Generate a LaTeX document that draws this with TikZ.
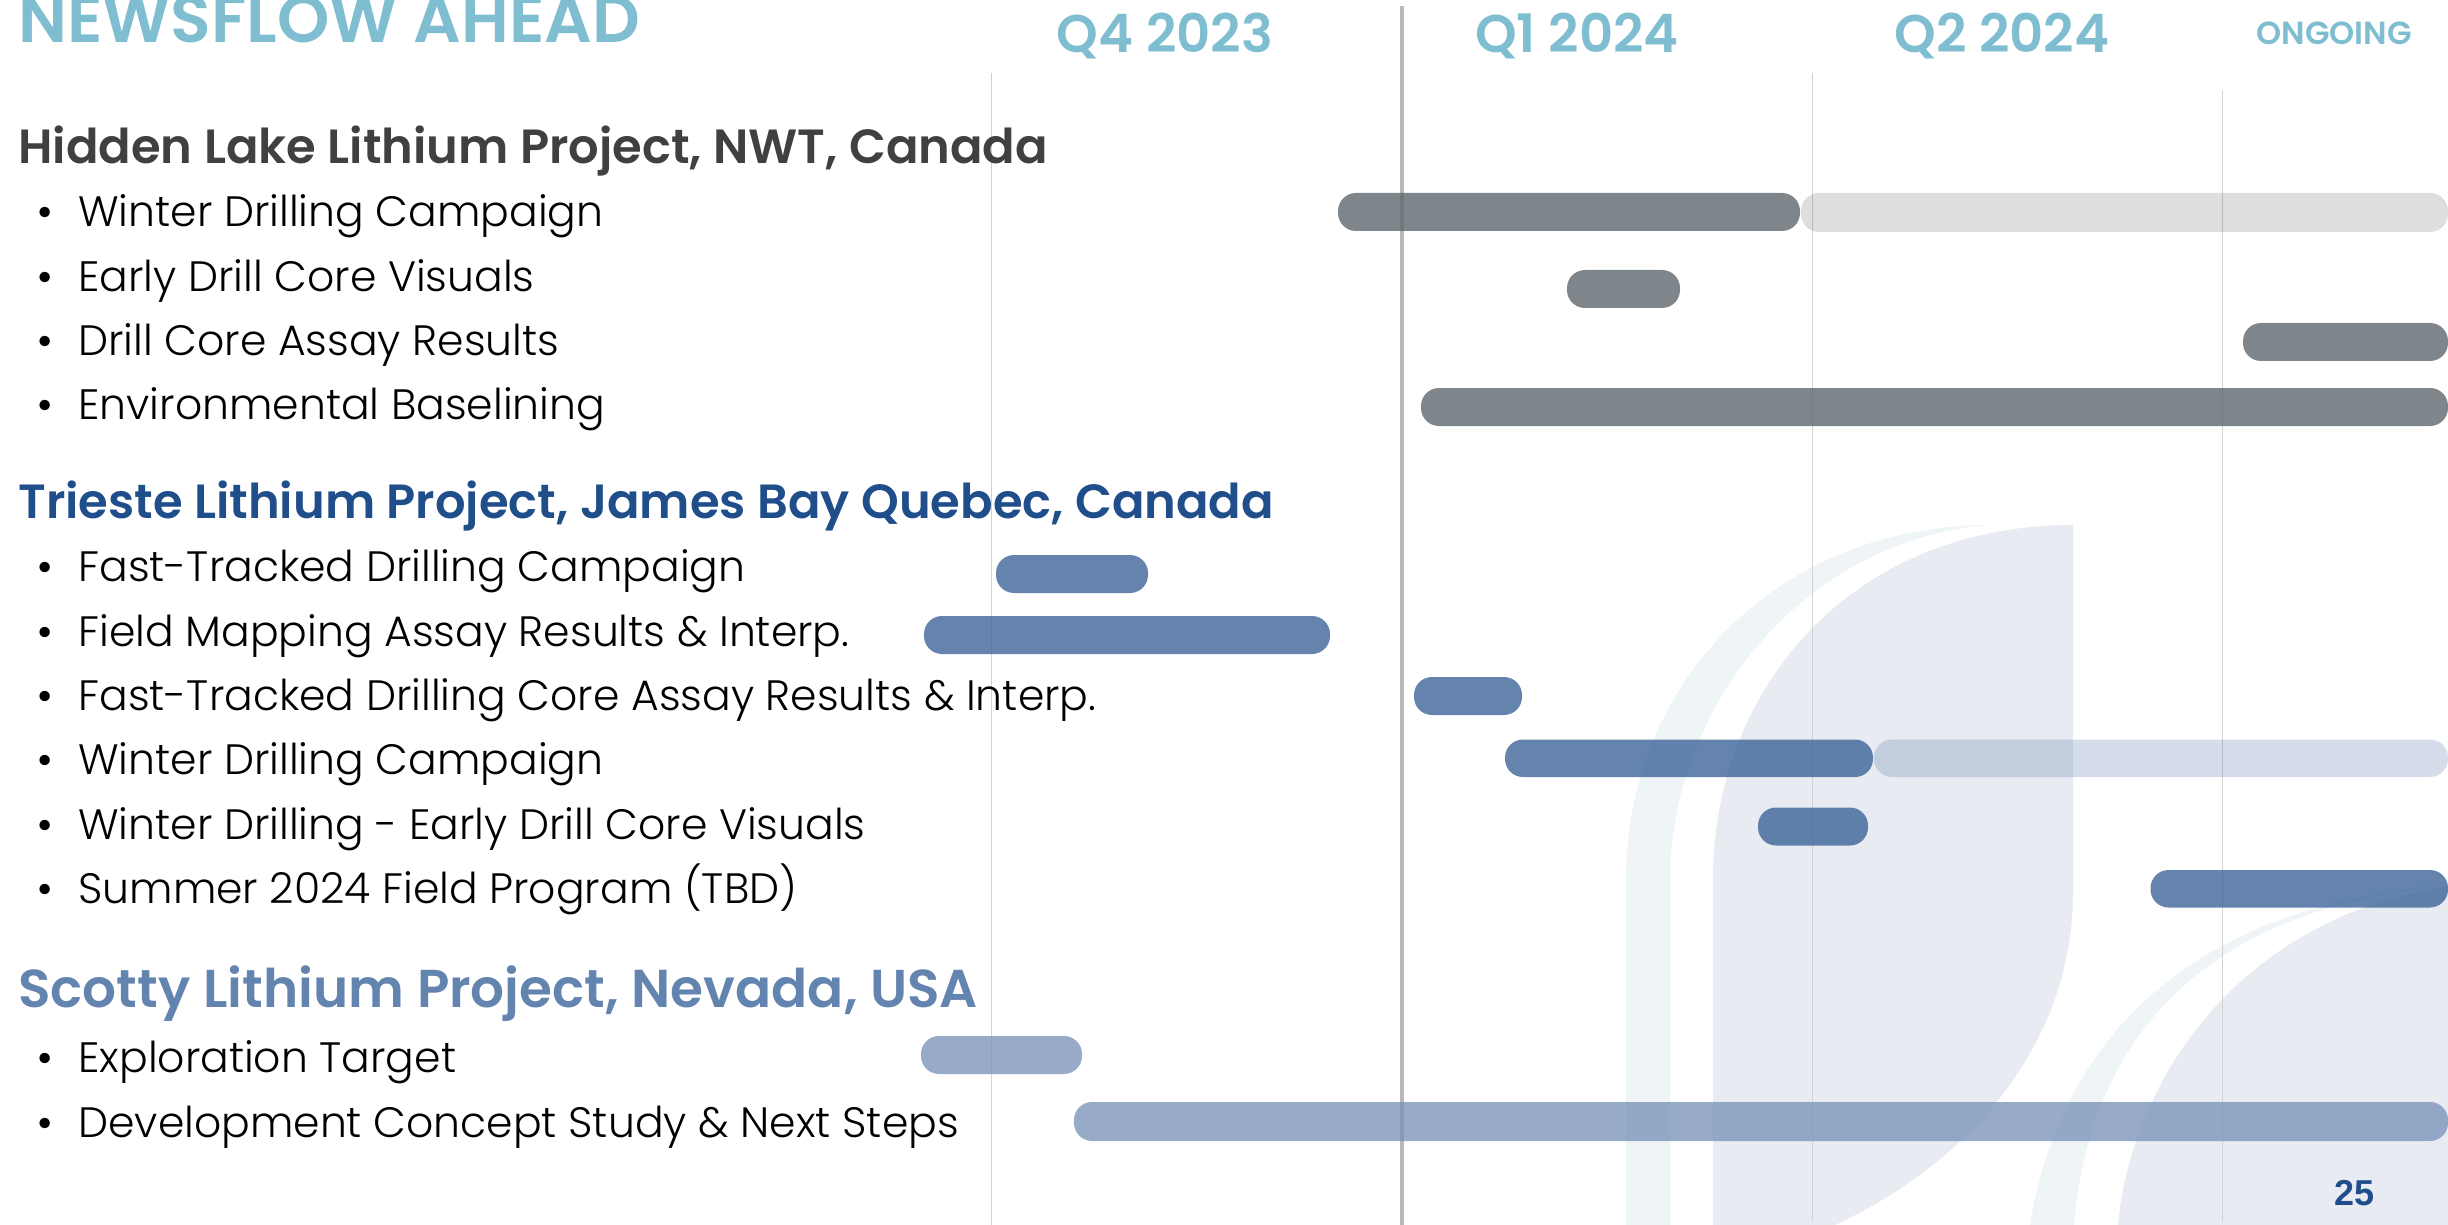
\documentclass[tikz,border=0pt]{standalone}
\usepackage{fontspec}
\setmainfont{Poppins}
\newfontfamily\poplight{Poppins Light}
\newfontfamily\popmed{Poppins Medium}
\newfontfamily\popsemi{Poppins SemiBold}
\newfontfamily\numfont{Liberation Sans}
\usepackage{xcolor}
\definecolor{headcol}{HTML}{7FBDD0}
\definecolor{hiddencol}{HTML}{404040}
\definecolor{triestecol}{HTML}{1F4E8A}
\definecolor{scottycol}{HTML}{6484B0}
\definecolor{shapecol}{HTML}{E8EBF2}
\definecolor{bandcol}{HTML}{EFF4F7}
\definecolor{grid}{HTML}{D2D2D2}
\definecolor{graybar}{HTML}{5F686E}
\definecolor{bluebar}{HTML}{3D659A}
\definecolor{palebar}{HTML}{7D96BB}
\tikzset{
  quarter/.style = {anchor=base, inner sep=0pt, text=headcol, font=\popsemi\fontsize{26.5}{27}\selectfont},
  project/.style = {anchor=base west, inner sep=0pt, font=\popsemi\fontsize{24}{24}\selectfont},
  item/.style = {anchor=base west, inner sep=0pt, text=black, font=\poplight\fontsize{21.25}{21}\selectfont},
  dot/.style = {anchor=base west, inner sep=0pt, text=black, font=\fontsize{21}{21}\selectfont},
  gridline/.style = {draw=grid, line width=0.5pt},
  bar/.style = {rounded corners=9pt, opacity=0.8},
  ghost/.style = {rounded corners=9pt, opacity=0.22}
}
\begin{document}
\begin{tikzpicture}[x=0.5pt,y=-0.5pt]
  \useasboundingbox (0,0) rectangle (2448,1225);
  % background shapes
  \fill[bandcol] (1626,1225) -- (1626,880) .. controls (1626,680) and (1780,525) .. (1990,525) .. controls (1800,540) and (1670,710) .. (1670,880) -- (1670,1225) -- cycle;
  \fill[shapecol] (1713,1225) -- (1713,879) .. controls (1713,690) and (1850,525) .. (2073,525) -- (2073,893) .. controls (2073,1030) and (1985,1155) .. (1835,1225) -- cycle;
  \fill[bandcol] (2030,1225) .. controls (2060,1040) and (2190,905) .. (2448,885) .. controls (2200,910) and (2090,1040) .. (2074,1225) -- cycle;
  \fill[shapecol] (2118,1225) .. controls (2130,1090) and (2230,920) .. (2448,886) -- (2448,1225) -- cycle;

  % quarter lines
  \draw[gridline] (991,73) -- (991,1225);
  \draw[gridline] (1812.5,73) -- (1812.5,1221);
  \draw[gridline] (2222.5,90) -- (2222.5,1221);
  \draw[draw=black!28, line width=2pt] (1402,6) -- (1402,1225);

  % Hidden Lake
  \fill[graybar, bar] (1338,193) rectangle (1800,231);
  \fill[graybar, ghost] (1801,193) rectangle (2448,232);
  \fill[graybar, bar] (1567,270) rectangle (1680,308);
  \fill[graybar, bar] (2243,323) rectangle (2448,361);
  \fill[graybar, bar] (1421,388) rectangle (2448,426);
  % Trieste
  \fill[bluebar, bar] (996,555) rectangle (1148,593);
  \fill[bluebar, bar] (924,616) rectangle (1330,654);
  \fill[bluebar, bar] (1414,677) rectangle (1522,715);
  \fill[bluebar, bar] (1505,739.5) rectangle (1873,777);
  \fill[bluebar, ghost] (1874,739.5) rectangle (2448,777);
  \fill[bluebar, bar] (1758,807.5) rectangle (1868,845.5);
  \fill[bluebar, bar] (2150.5,870) rectangle (2448,907.5);
  % Scotty
  \fill[palebar, bar] (921,1036) rectangle (1082,1074);
  \fill[palebar, bar] (1074,1102) rectangle (2448,1141);

  % headers
  \node[anchor=base west, inner sep=0pt, text=headcol, font=\popsemi\fontsize{33.3}{34}\selectfont] (title) at (18,43) {NEWSFLOW AHEAD};
  \node[quarter] (q4) at (1165,53) {Q4 2023};
  \node[quarter] (q1) at (1577,53) {Q1 2024};
  \node[quarter] (q2) at (2002,53) {Q2 2024};
  \node[quarter, font=\popsemi\fontsize{16}{16}\selectfont] (ongoing) at (2334,45) {ONGOING};

  \node[project, text=hiddencol] (hidden) at (18,164) {Hidden Lake Lithium Project, NWT, Canada};
  \node[dot] at (36,227) {•};
  \node[item] (h1) at (78,227) {Winter Drilling Campaign};
  \node[dot] at (36,292) {•};
  \node[item] (h2) at (78,292) {Early Drill Core Visuals};
  \node[dot] at (36,356) {•};
  \node[item] (h3) at (78,356) {Drill Core Assay Results};
  \node[dot] at (36,419) {•};
  \node[item] (h4) at (78,419) {Environmental Baselining};

  \node[project, text=triestecol] (trieste) at (18,518) {Trieste Lithium Project, James Bay Quebec, Canada};
  \node[dot] at (36,581) {•};
  \node[item] (t1) at (78,581) {Fast-Tracked Drilling Campaign};
  \node[dot] at (36,646) {•};
  \node[item] (t2) at (78,646) {Field Mapping Assay Results \& Interp.};
  \node[dot] at (36,710) {•};
  \node[item] (t3) at (78,710) {Fast-Tracked Drilling Core Assay Results \& Interp.};
  \node[dot] at (36,774) {•};
  \node[item] (t4) at (78,774) {Winter Drilling Campaign};
  \node[dot] at (36,839) {•};
  \node[item] (t5) at (78,839) {Winter Drilling - Early Drill Core Visuals};
  \node[dot] at (36,903) {•};
  \node[item] (t6) at (78,903) {Summer 2024 Field Program (TBD)};

  \node[project, text=scottycol, font=\popsemi\fontsize{26.65}{27}\selectfont] (scotty) at (18,1007) {Scotty Lithium Project, Nevada, USA};
  \node[dot] at (36,1072) {•};
  \node[item] (s1) at (78,1072) {Exploration Target};
  \node[dot] at (36,1137) {•};
  \node[item] (s2) at (78,1137) {Development Concept Study \& Next Steps};

  \node[anchor=base, inner sep=0pt, text=triestecol, font=\numfont\bfseries\fontsize{18}{18}\selectfont] (page) at (2354,1205) {25};
\end{tikzpicture}
\end{document}
